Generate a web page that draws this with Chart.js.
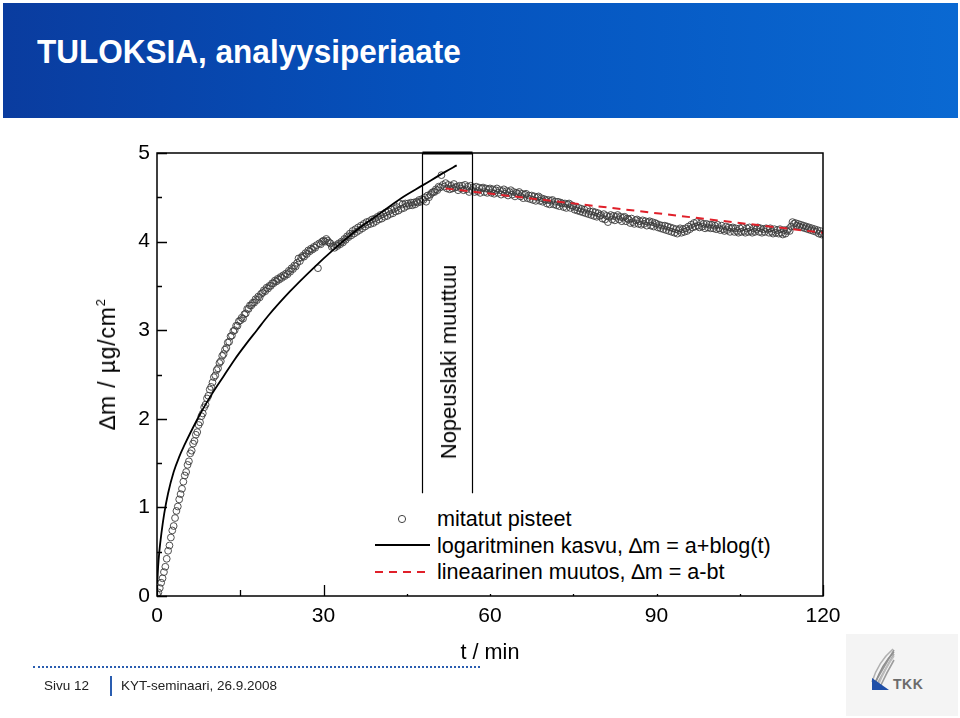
<!DOCTYPE html>
<html><head><meta charset="utf-8">
<script src="https://cdn.jsdelivr.net/npm/chart.js@4.4.1/dist/chart.umd.min.js"></script>
<style>
html,body{margin:0;padding:0;background:#fff;}
body{width:960px;height:718px;position:relative;overflow:hidden;font-family:"Liberation Sans",Arial,sans-serif;color:#000;}
#header{position:absolute;left:3px;top:3px;width:955px;height:115px;background:linear-gradient(90deg,#0a3c9f 0%,#0552bd 45%,#0a69d2 100%);}
#title{position:absolute;left:34px;top:29px;color:#fff;font-weight:bold;font-size:33px;line-height:40px;white-space:nowrap;transform:scaleX(0.955);transform-origin:left center;}
#chartWrap{position:absolute;left:0;top:0;width:960px;height:718px;}
.rot{position:absolute;white-space:nowrap;transform:translate(-50%,-50%) rotate(-90deg);font-size:22px;line-height:24px;}
#legend{position:absolute;left:366px;top:500px;width:455px;height:94px;background:#fff;}
.lt{position:absolute;left:71px;font-size:21.6px;line-height:26px;white-space:nowrap;}
#xtitle{position:absolute;left:490px;top:652px;transform:translate(-50%,-50%);font-size:21.6px;white-space:nowrap;}
#dots{position:absolute;left:33px;top:666px;width:447px;border-top:2px dotted #2a5db0;}
#sivu{position:absolute;left:44px;top:678px;font-size:13.5px;line-height:16px;color:#222;white-space:nowrap;}
#bar{position:absolute;left:110px;top:676px;width:1.5px;height:20px;background:#2a5db0;}
#kyt{position:absolute;left:121px;top:678px;font-size:13.5px;line-height:16px;color:#222;white-space:nowrap;}
#logoBg{position:absolute;left:846px;top:634px;width:112px;height:82px;background:#f4f4f4;}
#tkk{position:absolute;left:893px;top:676px;font-size:14px;font-weight:bold;color:#6b6b6b;letter-spacing:0.5px;}
</style></head>
<body>
<div id="header"><div id="title">TULOKSIA, analyysiperiaate</div></div>
<div id="logoBg"></div>
<svg style="position:absolute;left:860px;top:646px" width="40" height="50" viewBox="0 0 40 50">
  <path d="M14 38 L34 4" stroke="#9a9a9a" stroke-width="1.6" fill="none"/>
  <path d="M16 40 L34 8" stroke="#a8a8a8" stroke-width="1.6" fill="none"/>
  <path d="M12 36 Q18 16 33 3" stroke="#b0b0b0" stroke-width="1.6" fill="none"/>
  <path d="M15 38 Q22 18 34 6" stroke="#8f8f8f" stroke-width="1.6" fill="none"/>
  <path d="M18 40 Q25 22 34 10" stroke="#bdbdbd" stroke-width="1.6" fill="none"/>
  <path d="M20 41 Q27 26 34 14" stroke="#9d9d9d" stroke-width="1.6" fill="none"/>
  <path d="M12 32 L29 44 L12 44 Z" fill="#1f4fa8"/>
</svg>
<div id="tkk">TKK</div>
<div id="chartWrap"><canvas id="c" width="960" height="718"></canvas></div>
<div class="rot" style="left:449px;top:362px;">Nopeuslaki muuttuu</div>
<div class="rot" style="left:107px;top:364px;font-size:23px;letter-spacing:0.8px;">∆m / µg/cm<sup style="font-size:13px;vertical-align:10px;line-height:0">2</sup></div>
<div id="legend">
  <svg style="position:absolute;left:0;top:0" width="80" height="94">
    <circle cx="36" cy="19" r="3.6" fill="none" stroke="#444" stroke-width="1"/>
    <line x1="9" y1="45" x2="64" y2="45" stroke="#000" stroke-width="1.8"/>
    <line x1="9" y1="72" x2="64" y2="72" stroke="#e0202a" stroke-width="2" stroke-dasharray="8,6"/>
  </svg>
  <div class="lt" style="top:6px;">mitatut pisteet</div>
  <div class="lt" style="top:33px;">logaritminen kasvu, ∆m = a+blog(t)</div>
  <div class="lt" style="top:59px;">lineaarinen muutos, ∆m = a-bt</div>
</div>
<div id="xtitle">t / min</div>
<div id="dots"></div>
<div id="sivu">Sivu 12</div>
<div id="bar"></div>
<div id="kyt">KYT-seminaari, 26.9.2008</div>
<script>
// ---- data ----
const measStep = 0.25; // min between measured samples, starting at t = 0
const measMass = [
0.02,0.04,0.09,0.15,0.20,0.27,0.33,0.42,0.51,0.57,0.66,0.74,0.79,0.88,0.96,1.01,1.09,1.15,1.21,1.29,
1.36,1.40,1.48,1.52,1.61,1.64,1.72,1.75,1.82,1.85,1.93,1.96,2.03,2.06,2.13,2.16,2.23,2.26,2.33,2.36,
2.41,2.47,2.49,2.55,2.57,2.63,2.65,2.71,2.73,2.78,2.80,2.86,2.87,2.93,2.94,2.99,3.00,3.05,3.05,3.10,
3.11,3.14,3.13,3.18,3.19,3.24,3.24,3.28,3.28,3.31,3.31,3.35,3.34,3.38,3.37,3.41,3.42,3.45,3.44,3.48,
3.47,3.50,3.50,3.53,3.53,3.56,3.55,3.58,3.57,3.60,3.59,3.62,3.61,3.64,3.63,3.67,3.66,3.70,3.69,3.73,
3.72,3.76,3.81,3.78,3.82,3.84,3.83,3.87,3.86,3.90,3.89,3.92,3.91,3.94,3.93,3.96,3.70,3.98,3.97,4.00,
4.01,4.00,4.03,4.01,3.99,3.98,3.94,3.95,3.93,3.96,3.95,3.98,3.97,4.00,3.99,4.03,4.02,4.06,4.05,4.09,
4.07,4.12,4.09,4.14,4.11,4.16,4.13,4.18,4.15,4.20,4.17,4.22,4.19,4.23,4.20,4.25,4.21,4.26,4.23,4.28,
4.25,4.30,4.26,4.31,4.28,4.33,4.29,4.34,4.31,4.36,4.32,4.37,4.34,4.39,4.35,4.43,4.37,4.42,4.38,4.43,
4.40,4.43,4.41,4.44,4.41,4.44,4.42,4.45,4.44,4.47,4.45,4.48,4.47,4.50,4.45,4.52,4.50,4.53,4.55,4.56,
4.56,4.59,4.58,4.62,4.61,4.75,4.64,4.62,4.66,4.60,4.64,4.59,4.63,4.60,4.65,4.61,4.62,4.58,4.63,4.60,
4.63,4.58,4.64,4.59,4.62,4.56,4.63,4.58,4.61,4.56,4.62,4.57,4.61,4.55,4.60,4.61,4.56,4.60,4.55,4.59,
4.60,4.55,4.59,4.54,4.58,4.60,4.55,4.58,4.53,4.57,4.59,4.54,4.57,4.52,4.56,4.58,4.53,4.56,4.51,4.55,
4.54,4.56,4.51,4.54,4.49,4.53,4.54,4.49,4.52,4.48,4.52,4.47,4.51,4.46,4.50,4.51,4.46,4.49,4.45,4.48,
4.47,4.43,4.47,4.42,4.46,4.47,4.42,4.45,4.41,4.45,4.40,4.44,4.43,4.39,4.43,4.38,4.42,4.43,4.38,4.41,
4.40,4.36,4.39,4.35,4.38,4.34,4.37,4.33,4.36,4.32,4.37,4.31,4.34,4.30,4.34,4.29,4.33,4.28,4.32,4.29,
4.30,4.26,4.31,4.25,4.29,4.22,4.28,4.30,4.25,4.29,4.24,4.28,4.30,4.25,4.28,4.23,4.27,4.28,4.23,4.26,
4.25,4.21,4.26,4.22,4.20,4.24,4.25,4.20,4.23,4.19,4.24,4.20,4.23,4.18,4.22,4.23,4.18,4.22,4.17,4.21,
4.20,4.16,4.19,4.15,4.18,4.14,4.18,4.13,4.17,4.12,4.16,4.11,4.15,4.10,4.14,4.09,4.13,4.15,4.10,4.14,
4.11,4.15,4.12,4.17,4.14,4.19,4.16,4.21,4.17,4.22,4.18,4.16,4.21,4.17,4.20,4.15,4.20,4.16,4.19,4.15,
4.19,4.15,4.18,4.14,4.19,4.15,4.13,4.18,4.14,4.12,4.17,4.13,4.16,4.11,4.15,4.16,4.11,4.15,4.12,4.10,
4.15,4.11,4.16,4.12,4.10,4.15,4.11,4.16,4.12,4.10,4.15,4.11,4.14,4.16,4.11,4.15,4.10,4.14,4.11,4.15,
4.14,4.10,4.15,4.11,4.09,4.14,4.10,4.13,4.09,4.14,4.10,4.08,4.13,4.09,4.12,4.14,4.12,4.17,4.22,4.20,
4.21,4.18,4.20,4.17,4.19,4.16,4.18,4.15,4.17,4.14,4.16,4.13,4.15,4.12,4.14,4.11,4.13,4.09,4.12,4.08,
4.09
];
const logFitTime = [0.05,0.2,0.45,0.8,1.3,2,3,4,5,6,8,10,12,14,16,18,20,24,28,32,36,40,44,48,52,54];
const logFitMass = [0.14,0.33,0.52,0.71,0.93,1.16,1.40,1.57,1.71,1.84,2.08,2.29,2.48,2.67,2.84,3.00,3.16,3.44,3.69,3.92,4.13,4.31,4.49,4.64,4.79,4.86];
const linFitTime = [52, 120];
const linFitMass = [4.60, 4.10];
const xTickValues = [0, 30, 60, 90, 120];
const xMinorValues = [15, 45, 75, 105];
const yTickValues = [0, 1, 2, 3, 4, 5];
const yMinorValues = [0.5, 1.5, 2.5, 3.5, 4.5];
const regimeChange = {tStart: 47.7, tEnd: 56.7, mBottom: 1.16};

// ---- chart ----
const measPts = measMass.map((m, i) => ({x: i * measStep, y: m}));
const logPts = logFitTime.map((t, i) => ({x: t, y: logFitMass[i]}));
const linPts = linFitTime.map((t, i) => ({x: t, y: linFitMass[i]}));

const framePlugin = {
  id: 'framePlugin',
  afterDatasetsDraw(chart) {
    const {ctx, chartArea: a, scales: {x, y}} = chart;
    ctx.save();
    ctx.strokeStyle = '#000';
    ctx.lineWidth = 1.3;
    ctx.beginPath();
    yTickValues.forEach(v => { const p = Math.round(y.getPixelForValue(v)) + 0.5; ctx.moveTo(a.left, p); ctx.lineTo(a.left + 10, p); });
    yMinorValues.forEach(v => { const p = Math.round(y.getPixelForValue(v)) + 0.5; ctx.moveTo(a.left, p); ctx.lineTo(a.left + 5, p); });
    xTickValues.forEach(v => { const p = Math.round(x.getPixelForValue(v)) + 0.5; ctx.moveTo(p, a.bottom); ctx.lineTo(p, a.bottom - 11); });
    xMinorValues.forEach(v => { const p = Math.round(x.getPixelForValue(v)) + 0.5; ctx.moveTo(p, a.bottom); ctx.lineTo(p, a.bottom - 6); });
    ctx.stroke();
    // regime change box
    const x1 = Math.round(x.getPixelForValue(regimeChange.tStart)) + 0.5;
    const x2 = Math.round(x.getPixelForValue(regimeChange.tEnd)) + 0.5;
    const yb = y.getPixelForValue(regimeChange.mBottom);
    ctx.lineWidth = 1.2;
    ctx.beginPath();
    ctx.moveTo(x1, a.top); ctx.lineTo(x1, yb);
    ctx.moveTo(x2, a.top); ctx.lineTo(x2, yb);
    ctx.stroke();
    ctx.lineWidth = 3;
    ctx.beginPath(); ctx.moveTo(x1, a.top); ctx.lineTo(x2, a.top); ctx.stroke();
    // frame
    ctx.lineWidth = 1.5;
    ctx.strokeRect(a.left, a.top, a.right - a.left, a.bottom - a.top);
    ctx.restore();
  }
};

new Chart(document.getElementById('c'), {
  type: 'scatter',
  data: {
    datasets: [
      {label: 'lineaarinen muutos', data: linPts, showLine: true, borderColor: '#e0202a', borderWidth: 2,
       borderDash: [8, 6], pointRadius: 0, order: 1},
      {label: 'logaritminen kasvu', data: logPts, showLine: true, borderColor: '#000', borderWidth: 1.8,
       cubicInterpolationMode: 'monotone', pointRadius: 0, order: 2},
      {label: 'mitatut pisteet', data: measPts, showLine: false, pointStyle: 'circle', pointRadius: 3.4,
       pointBorderWidth: 0.9, pointBorderColor: '#3c3c3c', pointBackgroundColor: 'rgba(0,0,0,0)', order: 3}
    ]
  },
  options: {
    responsive: false, animation: false, devicePixelRatio: 1,
    layout: {padding: {left: 0, top: 153, right: 137, bottom: 0}},
    plugins: {legend: {display: false}, tooltip: {enabled: false}},
    scales: {
      x: {type: 'linear', min: 0, max: 120,
          afterBuildTicks: s => { s.ticks = xTickValues.map(v => ({value: v})); },
          afterFit: s => { s.height = 122; },
          grid: {display: false, drawTicks: false}, border: {display: false},
          ticks: {padding: 8, color: '#000', font: {family: '"Liberation Sans", Arial, sans-serif', size: 21}}},
      y: {type: 'linear', min: 0, max: 5,
          afterBuildTicks: s => { s.ticks = yTickValues.map(v => ({value: v})); },
          afterFit: s => { s.width = 157; },
          grid: {display: false, drawTicks: false}, border: {display: false},
          ticks: {padding: 7, color: '#000', font: {family: '"Liberation Sans", Arial, sans-serif', size: 21}}}
    }
  },
  plugins: [framePlugin]
});
</script>
</body></html>
